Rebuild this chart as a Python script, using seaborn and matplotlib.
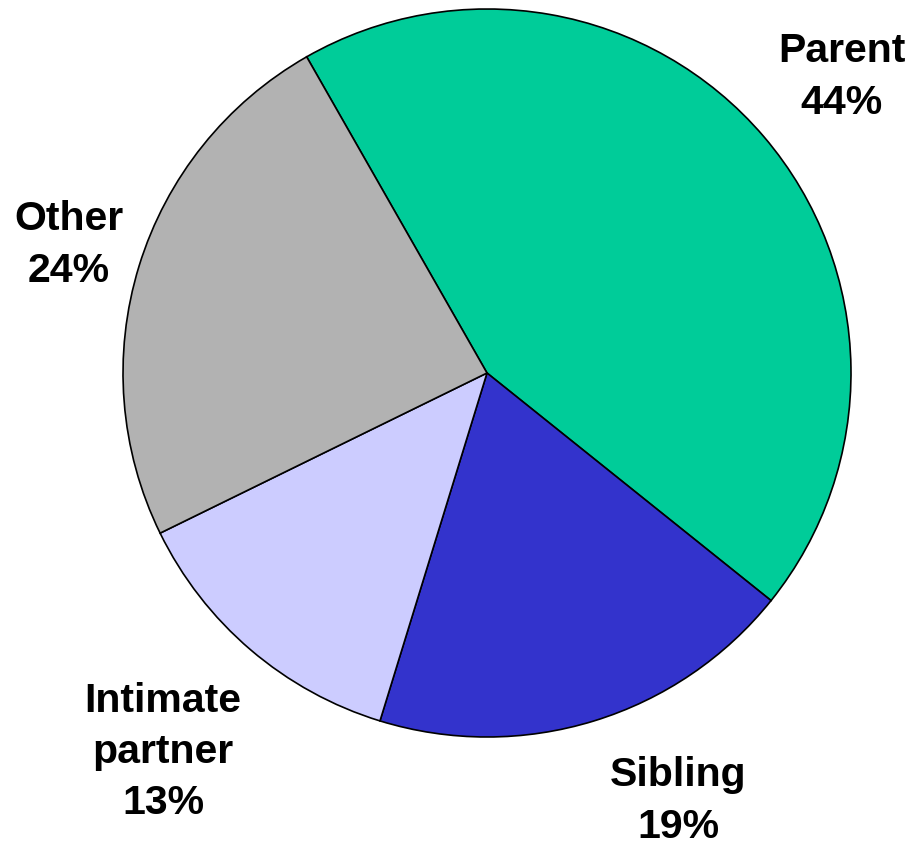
import matplotlib
matplotlib.use("Agg")
import matplotlib.pyplot as plt
import seaborn as sns

# relationship breakdown (percent)
categories = ["Parent", "Sibling", "Intimate\npartner", "Other"]
shares = [44, 19, 13, 24]
colors = ["#00CC99", "#3333CC", "#CCCCFF", "#B2B2B2"]

# label centres in pixels of the 912x844 image (x from left, y from top)
label_px = [(842, 77), (678, 801), (163, 752), (69, 245)]

sns.set_theme(style="white")
plt.rcParams["font.family"] = ["Liberation Sans", "DejaVu Sans"]

W, H = 912, 844
cx, cy, r = 487, 373, 364

fig = plt.figure(figsize=(W / 100, H / 100), dpi=100)
ax = fig.add_axes([0, 0, 1, 1])

ax.pie(shares, colors=colors, startangle=119.7, counterclock=False,
       radius=1.0, wedgeprops=dict(edgecolor="black", linewidth=1.2))

ax.set_xlim(-cx / r, (W - cx) / r)
ax.set_ylim((cy - H) / r, cy / r)
ax.set_aspect("auto")
ax.axis("off")

for cat, val, (px, py) in zip(categories, shares, label_px):
    ax.text((px - cx) / r, (cy - py) / r, f"{cat}\n{val}%",
            ha="center", va="center", fontsize=29.5, fontweight="bold",
            linespacing=1.45, color="black")

fig.savefig("out.png", dpi=100, facecolor="white")
